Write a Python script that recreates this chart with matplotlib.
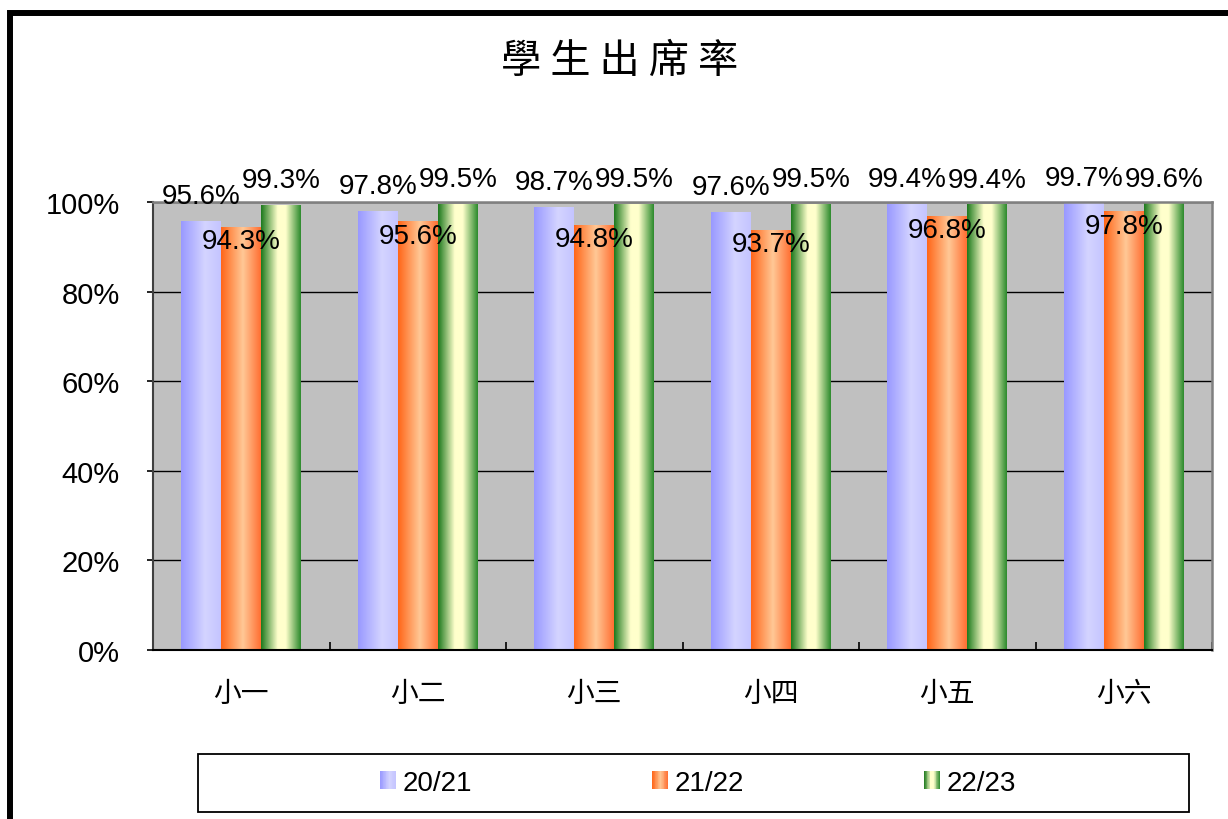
import numpy as np
import matplotlib
matplotlib.use("Agg")
import matplotlib.pyplot as plt
from matplotlib.colors import LinearSegmentedColormap
from matplotlib.patches import Rectangle
from matplotlib.legend_handler import HandlerBase
from matplotlib.ticker import MultipleLocator, PercentFormatter

grades = ["小一", "小二", "小三", "小四", "小五", "小六"]
years = ["20/21", "21/22", "22/23"]
rate_2021 = [95.6, 97.8, 98.7, 97.6, 99.4, 99.7]
rate_2122 = [94.3, 95.6, 94.8, 93.7, 96.8, 97.8]
rate_2223 = [99.3, 99.5, 99.5, 99.5, 99.4, 99.6]
title = "學生出席率"

cjk = ["Noto Sans CJK TC", "DejaVu Sans"]
latin = "Liberation Sans"

# horizontal gradients, like the cylinder shading in the original
cmaps = [
    LinearSegmentedColormap.from_list("b", [(0, "#9999FF"), (0.6, "#D4D4FF"), (1, "#C4C4FF")]),
    LinearSegmentedColormap.from_list("o", [(0, "#FF6619"), (0.55, "#FFC896"), (1, "#FF7033")]),
    LinearSegmentedColormap.from_list("g", [(0, "#1E7A1E"), (0.42, "#FFFFCC"), (0.62, "#FFFFCC"), (1, "#2E8B2E")]),
]


class GradientHandler(HandlerBase):
    def __init__(self, cmap):
        super().__init__()
        self.cmap = cmap

    def create_artists(self, legend, orig_handle, xdescent, ydescent, width, height, fontsize, trans):
        n = 20
        arts = []
        for i in range(n):
            r = Rectangle((-xdescent + width * i / n, -ydescent), width / n + 0.3, height,
                          facecolor=self.cmap((i + 0.5) / n), edgecolor="none", transform=trans)
            arts.append(r)
        return arts


fig = plt.figure(figsize=(12.28, 8.2), dpi=100)
ax = fig.add_axes([153 / 1228, 1 - 651 / 820, (1212 - 153) / 1228, (651 - 203) / 820])
ax.set_facecolor("#C0C0C0")

x = np.arange(len(grades))
w = 0.2266
series = [rate_2021, rate_2122, rate_2223]
handles = []
for k, vals in enumerate(series):
    v = np.array(vals) / 100
    bars = ax.bar(x + (k - 1) * w, v, w, color="none", edgecolor="none", zorder=2)
    handles.append(bars)
    grad = np.linspace(0, 1, 100).reshape(1, -1)
    for p in bars.patches:
        bx, by = p.get_x(), p.get_y()
        ax.imshow(grad, cmap=cmaps[k], extent=[bx, bx + p.get_width(), by, by + p.get_height()],
                  aspect="auto", zorder=2, interpolation="bilinear")
    offs = [18.5, -10, 18][k]
    for xi, val in zip(x + (k - 1) * w, vals):
        ax.annotate(f"{val:.1f}%", (xi, val / 100), xytext=(0, offs), textcoords="offset points",
                    ha="center", va="center", fontsize=20, family=latin, zorder=5)

ax.set_xlim(-0.5, len(grades) - 0.5)
ax.set_ylim(0, 1)
ax.yaxis.set_major_locator(MultipleLocator(0.2))
ax.yaxis.set_major_formatter(PercentFormatter(xmax=1, decimals=0))
ax.grid(axis="y", color="black", linewidth=1, zorder=1)
ax.set_axisbelow(True)

ax.set_xticks(x)
ax.set_xticklabels(grades, family=cjk, fontsize=20)
ax.set_xticks(np.arange(len(grades) + 1) - 0.5, minor=True)
ax.tick_params(axis="x", which="major", length=0, pad=20)
ax.tick_params(axis="x", which="minor", direction="in", length=6, width=1.2, color="black")
ax.tick_params(axis="y", direction="out", length=4, width=1.2, pad=20, labelsize=21)
for lab in ax.get_yticklabels():
    lab.set_family(latin)

for s in ["top", "right"]:
    ax.spines[s].set_color("#808080")
    ax.spines[s].set_linewidth(1.8)
ax.spines["left"].set_color("#404040")
ax.spines["left"].set_linewidth(1.5)
ax.spines["bottom"].set_color("black")
ax.spines["bottom"].set_linewidth(1.5)

# title with the wide character spacing of the original
fig.text(620 / 1228, 1 - 61 / 820, " ".join(title), family=cjk, fontsize=29,
         ha="center", va="center")

# outer chart border (cut at right and bottom as in the original)
fig.patches.append(Rectangle((10 / 1228, -0.5), 2, 1.5 - 13.5 / 820, transform=fig.transFigure,
                             fill=False, edgecolor="black", linewidth=4.3))

# legend box
fig.patches.append(Rectangle((198 / 1228, 1 - 813 / 820), 991 / 1228, 58 / 820,
                             transform=fig.transFigure, fill=False, edgecolor="black", linewidth=1.3))
leg = fig.legend(handles, years, ncol=3, loc="center", bbox_to_anchor=(698 / 1228, 1 - 784 / 820),
                 frameon=False, prop={"family": latin, "size": 20},
                 handler_map={h: GradientHandler(cmaps[i]) for i, h in enumerate(handles)},
                 handlelength=0.54, handleheight=0.6, handletextpad=0.25, columnspacing=6.5)

fig.savefig("out.png", dpi=100)
